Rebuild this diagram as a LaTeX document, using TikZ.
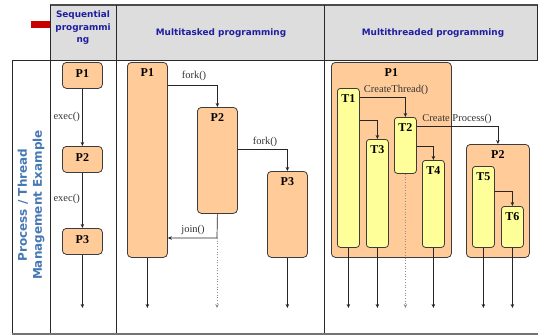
\documentclass[tikz,border=0pt]{standalone}
\usepackage{fontspec}
\setmainfont{Liberation Serif}
\newfontfamily\hdrfont{DejaVu Sans}
\usetikzlibrary{arrows.meta}
\definecolor{procfill}{RGB}{255,204,153}
\definecolor{thrfill}{RGB}{255,255,153}
\definecolor{hdrgray}{RGB}{221,221,221}
\definecolor{hdrblue}{RGB}{30,30,160}
\definecolor{sideblue}{RGB}{70,120,180}
\definecolor{markred}{RGB}{200,0,0}
\definecolor{edgegray}{RGB}{60,60,60}
\definecolor{rulegray}{RGB}{40,40,40}

\begin{document}
\begin{tikzpicture}[x=1pt,y=-1pt,
  proc/.style={draw=edgegray, line width=0.8pt, fill=procfill, rounded corners=4pt,
    anchor=north west, inner sep=0pt},
  thr/.style={draw=edgegray, line width=0.8pt, fill=thrfill, rounded corners=3pt,
    anchor=north west, inner sep=0pt},
  boxlbl/.style={font=\bfseries\fontsize{12}{14}\selectfont, inner sep=0pt},
  lbl/.style={font=\fontsize{10.5}{12}\selectfont, inner sep=0pt, text=black!80},
  hdr/.style={font=\hdrfont\bfseries\fontsize{8.9}{12.5}\selectfont, text=hdrblue, inner sep=0pt},
  side/.style={font=\hdrfont\bfseries\fontsize{12}{15}\selectfont, text=sideblue, inner sep=0pt},
  arr/.style={-{Stealth[length=4pt,width=3.5pt]}, line width=0.7pt, draw=black!85},
  darr/.style={-{Stealth[length=4pt,width=3.5pt]}, line width=0.7pt, draw=black!45, dotted},
  rule/.style={draw=rulegray, line width=0.9pt}
]
\useasboundingbox (0,0) rectangle (538,335);

% table frame
\fill[hdrgray] (50,5) rectangle (538,60);
\fill[markred] (31,21) rectangle (50,28);
\draw[rule, line width=1.6pt, draw=black!70] (50,5) -- (538,5);
\draw[rule] (12,60) -- (538,60);
\draw[rule] (50,5) -- (50,334);
\draw[rule] (116,5) -- (116,334);
\draw[rule] (324,5) -- (324,334);
\draw[rule] (537.5,5) -- (537.5,60);
\draw[rule, line width=1.5pt] (12.5,60) -- (12.5,334);
\draw[rule, draw=black!55, line width=1.3pt] (12,334) -- (538,334);

% headers
\node[hdr, align=center] (hSeq) at (83,28) {Sequential\\programmi\\ng};
\node[hdr] (hMT) at (221,33) {Multitasked programming};
\node[hdr] (hMTh) at (433,33) {Multithreaded programming};
\node[side, rotate=90, align=center] (side) at (31,205) {Process / Thread\\Management Example};

\coordinate (endy) at (0,308);

% sequential programming
\node[proc, minimum width=40pt, minimum height=26pt] (sP1) at (62,62) {};
\node[proc, minimum width=40pt, minimum height=26pt] (sP2) at (62,146) {};
\node[proc, minimum width=40pt, minimum height=26pt] (sP3) at (62,228) {};
\node[boxlbl] (sP1t) at ([yshift=2pt]sP1.center) {P1};
\node[boxlbl] (sP2t) at ([yshift=2pt]sP2.center) {P2};
\node[boxlbl] (sP3t) at ([yshift=2pt]sP3.center) {P3};
\draw[arr] (sP1.south) -- (sP2.north);
\draw[arr] (sP2.south) -- (sP3.north);
\draw[arr] (sP3.south) -- (sP3.south |- endy);
\node[lbl, anchor=east] (ex1) at (80,117) {exec()};
\node[lbl, anchor=east] (ex2) at (80,199) {exec()};

% multitasked programming
\node[proc, minimum width=40pt, minimum height=195pt] (mP1) at (127,62) {};
\node[proc, minimum width=40pt, minimum height=106pt] (mP2) at (197,107) {};
\node[proc, minimum width=40pt, minimum height=86pt] (mP3) at (267,171) {};
\node[boxlbl, anchor=north] (mP1t) at ([yshift=-6pt]mP1.north) {P1};
\node[boxlbl, anchor=north] (mP2t) at ([yshift=-6pt]mP2.north) {P2};
\node[boxlbl, anchor=north] (mP3t) at ([yshift=-6pt]mP3.north) {P3};
\draw[arr] ([yshift=-23pt]mP1.north east) -| (mP2.north);
\draw[arr] ([yshift=-42pt]mP2.north east) -| (mP3.north);
\node[lbl] (fk1) at (194,76) {fork()};
\node[lbl] (fk2) at (265,142) {fork()};
\coordinate (mJ) at (217,238);
\draw[arr] (mP2.south) -- (mJ) -- (mJ -| mP1.east);
\node[lbl] (jn) at (193,230) {join()};
\draw[darr] (mJ) -- (mJ |- endy);
\draw[arr] (mP1.south) -- (mP1.south |- endy);
\draw[arr] (mP3.south) -- (mP3.south |- endy);

% multithreaded programming
\node[proc, minimum width=120pt, minimum height=195pt] (tP1) at (331,62) {};
\node[proc, minimum width=63pt, minimum height=113pt] (tP2) at (466,144) {};
\node[boxlbl, anchor=north] (tP1t) at ([yshift=-6pt]tP1.north) {P1};
\node[boxlbl, anchor=north] (tP2t) at ([yshift=-6pt]tP2.north) {P2};
\node[thr, minimum width=22pt, minimum height=159pt] (T1) at (337,88) {};
\node[thr, minimum width=22pt, minimum height=108pt] (T3) at (366,139) {};
\node[thr, minimum width=22pt, minimum height=56pt] (T2) at (394,117) {};
\node[thr, minimum width=22pt, minimum height=87pt] (T4) at (422,160) {};
\node[thr, minimum width=22pt, minimum height=81pt] (T5) at (472,166) {};
\node[thr, minimum width=22pt, minimum height=41pt] (T6) at (501,206) {};
\foreach \t in {T1,T2,T3,T4,T5,T6}
  \node[boxlbl, anchor=north] (\t l) at ([yshift=-6pt]\t.north) {\t};
\draw[arr] ([yshift=-9pt]T1.north east) -| (T2.north);
\draw[arr] ([yshift=-32pt]T1.north east) -| (T3.north);
\draw[arr] ([yshift=-29pt]T2.north east) -| (T4.north);
\draw[arr] ([yshift=-9pt]T2.north east) -| (tP2.north);
\draw[arr] ([yshift=-25pt]T5.north east) -| (T6.north);
\node[lbl] (ct) at (396,90) {CreateThread()};
\node[lbl] (cp) at (457,119) {Create Process()};
\draw[darr] (T2.south) -- (T2.south |- endy);
\foreach \t in {T1,T3,T4,T5,T6}
  \draw[arr] (\t.south) -- (\t.south |- endy);
\end{tikzpicture}
\end{document}
